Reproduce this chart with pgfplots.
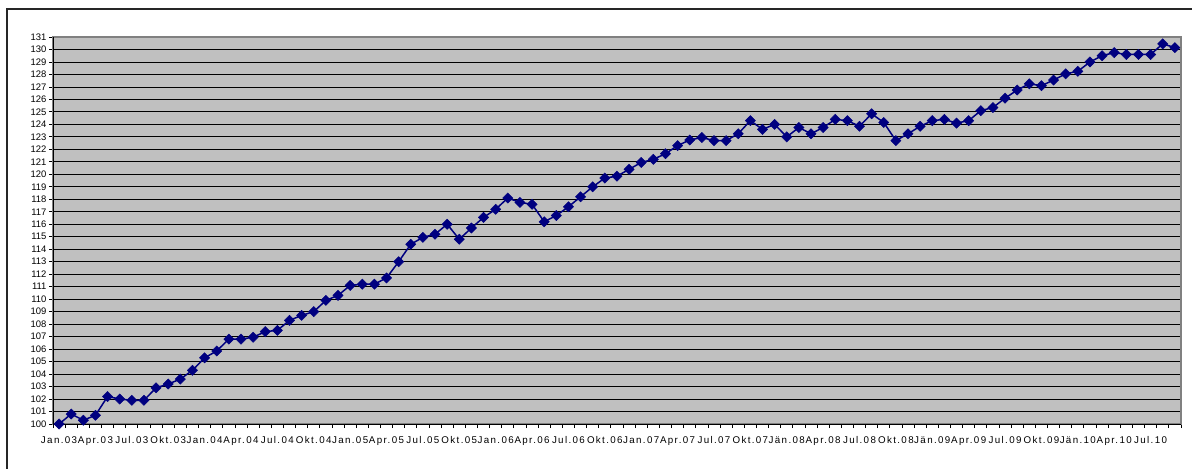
\documentclass[border=0pt]{standalone}
\usepackage{pgfplots}
\pgfplotsset{compat=1.18}
\usepackage{fontspec}
\setmainfont{Liberation Sans}
\newfontfamily\lblfont[LetterSpace=14]{Liberation Sans}
\definecolor{plotbg}{RGB}{192,192,192}
\definecolor{navyline}{RGB}{0,0,128}
\definecolor{framegray}{RGB}{128,128,128}
\begin{document}
\begin{tikzpicture}
\path[use as bounding box] (0,0) rectangle (1192bp,469bp);
\fill[white] (0,0) rectangle (1192bp,469bp);
\draw[line width=1.2bp,black!85] (7bp,-20bp) -- (7bp,460bp) -- (1210bp,460bp);
\begin{axis}[
  at={(53bp,45bp)}, anchor=south west,
  scale only axis, width=1128bp, height=387bp,
  xmin=-0.5, xmax=92.5, ymin=100, ymax=131,
  axis background/.style={fill=plotbg},
  axis line style={draw=framegray, line width=1.2bp},
  xtick={0,3,...,90},
  xticklabels={Jan.03,Apr.03,Jul.03,Okt.03,Jan.04,Apr.04,Jul.04,Okt.04,Jan.05,Apr.05,Jul.05,Okt.05,Jan.06,Apr.06,Jul.06,Okt.06,Jan.07,Apr.07,Jul.07,Okt.07,Jän.08,Apr.08,Jul.08,Okt.08,Jän.09,Apr.09,Jul.09,Okt.09,Jän.10,Apr.10,Jul.10},
  minor xtick={-0.5,0.5,...,92.5},
  ytick={100,101,...,131},
  major x tick style={draw=none},
  minor x tick style={black, line width=0.8bp},
  minor tick length=4bp,
  major tick length=4bp,
  y tick style={black, line width=0.8bp},
  tick align=outside,
  tick pos=left,
  ymajorgrids,
  grid style={black, line width=0.8bp},
  /pgf/number format/assume math mode=true,
  yticklabel style={font=\fontsize{9.5}{10}\selectfont, xshift=1bp},
  xticklabel style={font=\lblfont\fontsize{9.8}{10}\selectfont, yshift=-5bp, inner xsep=0pt},
  clip=false,
]
\draw[black, line width=1bp] (rel axis cs:0,0) -- (rel axis cs:0,1);
\draw[black, line width=1bp] (rel axis cs:0,0) -- (rel axis cs:1,0);
\addplot[navyline, line width=1.5bp, mark=square*, mark size=3.6bp,
  mark options={rotate=45, fill=navyline, draw=navyline, line width=0.5bp}]
coordinates {
(0,100.0) (1,100.8) (2,100.3) (3,100.7) (4,102.2) (5,102.0) (6,101.9) (7,101.9)
(8,102.9) (9,103.2) (10,103.6) (11,104.3) (12,105.3) (13,105.85) (14,106.8) (15,106.8)
(16,106.95) (17,107.4) (18,107.5) (19,108.3) (20,108.7) (21,109.0) (22,109.9) (23,110.3)
(24,111.1) (25,111.2) (26,111.2) (27,111.7) (28,113.0) (29,114.4) (30,114.95) (31,115.2)
(32,116.0) (33,114.8) (34,115.7) (35,116.55) (36,117.2) (37,118.1) (38,117.75) (39,117.6)
(40,116.2) (41,116.7) (42,117.4) (43,118.2) (44,119.0) (45,119.7) (46,119.85) (47,120.4)
(48,120.95) (49,121.2) (50,121.65) (51,122.3) (52,122.75) (53,122.95) (54,122.7) (55,122.7)
(56,123.25) (57,124.3) (58,123.6) (59,124.0) (60,123.0) (61,123.75) (62,123.25) (63,123.75)
(64,124.4) (65,124.3) (66,123.85) (67,124.85) (68,124.15) (69,122.7) (70,123.25) (71,123.85)
(72,124.3) (73,124.4) (74,124.1) (75,124.3) (76,125.1) (77,125.35) (78,126.1) (79,126.75)
(80,127.25) (81,127.1) (82,127.55) (83,128.05) (84,128.25) (85,129.0) (86,129.5) (87,129.75)
(88,129.6) (89,129.6) (90,129.6) (91,130.45) (92,130.15)
};
\end{axis}
\end{tikzpicture}
\end{document}
